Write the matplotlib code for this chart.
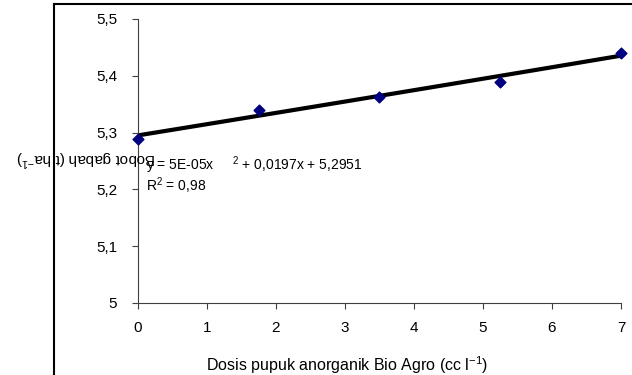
import matplotlib.pyplot as plt
import numpy as np

plt.rcParams['font.family'] = ['Liberation Sans', 'DejaVu Sans']
plt.rcParams['mathtext.fontset'] = 'custom'
plt.rcParams['mathtext.rm'] = 'Liberation Sans'
plt.rcParams['mathtext.it'] = 'Liberation Sans'

# data
dosis = [0, 1.75, 3.5, 5.25, 7]
bobot = [5.289, 5.340, 5.363, 5.389, 5.440]
# trend line coefficients (from the equation label): a*x^2 + b*x + c
coef = [5e-05, 0.0197, 5.2951]
y_ticks = [5.0, 5.1, 5.2, 5.3, 5.4, 5.5]
y_ticklabels = ['5', '5,1', '5,2', '5,3', '5,4', '5,5']
x_ticks = [0, 1, 2, 3, 4, 5, 6, 7]

fig = plt.figure(figsize=(6.32, 3.75), dpi=100)
W, H = 632, 375
ax = fig.add_axes([138 / W, 1 - 303 / H, (621 - 138) / W, (303 - 19) / H])

# outer chart frame (cut off at right and bottom)
fig.add_artist(plt.Line2D([54 / W, 54 / W], [0, 1 - 4 / H], transform=fig.transFigure,
                          color='black', lw=1.5))
fig.add_artist(plt.Line2D([54 / W, 1], [1 - 4 / H, 1 - 4 / H], transform=fig.transFigure,
                          color='black', lw=1.5))

xs = np.linspace(0, 7, 100)
ax.plot(xs, np.polyval(coef, xs), color='black', lw=3, zorder=2)
ax.scatter(dosis, bobot, marker='D', s=30, color='#000080', zorder=3, clip_on=False)

ax.set_xlim(0, 7)
ax.set_ylim(5.0, 5.5)
ax.set_xticks(x_ticks)
ax.set_yticks(y_ticks)
ax.set_yticklabels(y_ticklabels)
ax.tick_params(labelsize=11, length=4, color='#404040', pad=9)
ax.tick_params(axis='y', pad=11)
for s in ['top', 'right']:
    ax.spines[s].set_visible(False)
for s in ['left', 'bottom']:
    ax.spines[s].set_color('#404040')

ax.set_xlabel('Dosis pupuk anorganik Bio Agro (cc l$^{\\mathrm{-1}}$)', fontsize=11.5)
ax.xaxis.set_label_coords((347 - 138) / 483, -(365 - 303) / 284, transform=ax.transAxes)
ax.xaxis.label.set_va('center')

# y label appears upside down in the original
fig.text(86 / W, 1 - 158 / H, 'Bobot gabah (t ha$^{\\mathrm{-1}}$)', rotation=180, fontsize=11,
         ha='center', va='center')

ax.text(0.12, 5.242, 'y = 5E-05x     $^2$ + 0,0197x + 5,2951', fontsize=10, va='center')
ax.text(0.12, 5.206, 'R$^2$ = 0,98', fontsize=10, va='center')

fig.savefig('out.png', dpi=100)
